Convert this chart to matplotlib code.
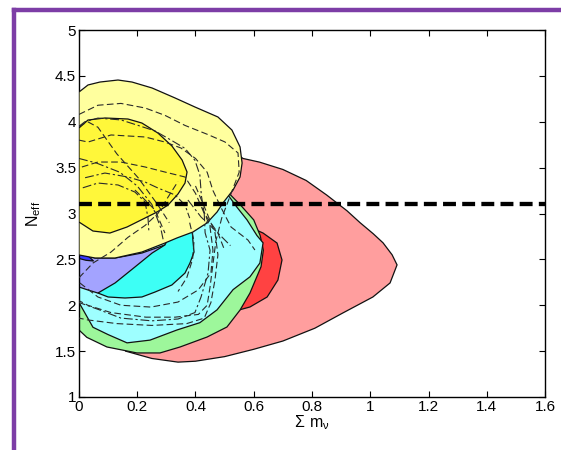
import matplotlib
matplotlib.use("Agg")
import matplotlib.pyplot as plt
from matplotlib.patches import Polygon
from matplotlib.lines import Line2D

plt.rcParams['font.family'] = ['Liberation Sans', 'DejaVu Sans']

# ---------------- data (sum m_nu , N_eff) ----------------
red95_x = [0.50, 0.563, 0.62, 0.70, 0.78, 0.851, 0.92, 0.965, 1.01, 1.044, 1.075, 1.092, 1.068, 1.009, 0.906, 0.81, 0.70, 0.60, 0.50, 0.40, 0.34, 0.25, 0.16, 0.10, 0.30]
red95_y = [3.75, 3.60, 3.56, 3.48, 3.36, 3.20, 3.03, 2.90, 2.78, 2.68, 2.55, 2.44, 2.243, 2.09, 1.916, 1.75, 1.61, 1.52, 1.44, 1.39, 1.38, 1.42, 1.50, 2.20, 3.20]

red68_x = [0.570, 0.632, 0.680, 0.697, 0.683, 0.646, 0.587, 0.536, 0.467, 0.347, 0.415]
red68_y = [2.875, 2.787, 2.678, 2.493, 2.275, 2.090, 1.981, 1.937, 1.948, 2.275, 2.711]

green95_x = [0.0, 0.027, 0.096, 0.199, 0.278, 0.347, 0.440, 0.508, 0.553, 0.587, 0.625, 0.633, 0.622, 0.600, 0.558, 0.515, 0.20, 0.0]
green95_y = [1.73, 1.65, 1.545, 1.48, 1.48, 1.545, 1.654, 1.763, 1.948, 2.133, 2.42, 2.60, 2.76, 2.93, 3.08, 3.22, 3.00, 2.30]

cyan95_x = [0.0, 0.25, 0.50, 0.512, 0.542, 0.577, 0.611, 0.632, 0.621, 0.587, 0.529, 0.474, 0.415, 0.336, 0.244, 0.165, 0.10, 0.048, 0.0]
cyan95_y = [2.71, 3.00, 3.25, 3.20, 3.07, 2.93, 2.76, 2.68, 2.46, 2.31, 2.17, 1.95, 1.81, 1.73, 1.62, 1.59, 1.68, 1.76, 2.03]

blue95_x = [0.0, 0.055, 0.124, 0.216, 0.295, 0.347, 0.244, 0.065, 0.031, 0.0]
blue95_y = [2.569, 2.515, 2.515, 2.569, 2.657, 2.548, 2.144, 2.133, 2.166, 2.199]

blue68_x = [0.0, 0.031, 0.050, 0.024, 0.0]
blue68_y = [2.602, 2.540, 2.482, 2.490, 2.510]

cyan68_x = [0.065, 0.124, 0.192, 0.251, 0.295, 0.330, 0.388, 0.391, 0.395, 0.381, 0.364, 0.319, 0.261, 0.216, 0.158, 0.100]
cyan68_y = [2.133, 2.243, 2.417, 2.569, 2.657, 2.875, 2.875, 2.711, 2.580, 2.460, 2.351, 2.221, 2.144, 2.090, 2.079, 2.090]

yellow95_x = [0.0, 0.031, 0.072, 0.134, 0.182, 0.251, 0.330, 0.398, 0.477, 0.525, 0.553, 0.560, 0.553, 0.529, 0.494, 0.474, 0.439, 0.391, 0.336, 0.295, 0.216, 0.124, 0.055, 0.0]
yellow95_y = [4.324, 4.401, 4.433, 4.455, 4.433, 4.368, 4.259, 4.161, 4.052, 3.910, 3.725, 3.550, 3.398, 3.256, 3.114, 3.016, 2.896, 2.798, 2.733, 2.678, 2.580, 2.515, 2.515, 2.548]

yellow68_x = [0.0, 0.031, 0.089, 0.168, 0.216, 0.271, 0.319, 0.354, 0.371, 0.364, 0.340, 0.306, 0.268, 0.220, 0.165, 0.106, 0.048, 0.0]
yellow68_y = [3.932, 4.019, 4.041, 4.030, 3.986, 3.877, 3.736, 3.583, 3.452, 3.332, 3.213, 3.093, 3.016, 2.940, 2.853, 2.787, 2.809, 2.907]

# unfilled comparison contours (dashed / dash-dot)
dash_curves = [
    ([0.0, 0.065, 0.144, 0.227, 0.295, 0.364, 0.443, 0.501, 0.546, 0.55, 0.52, 0.49, 0.47, 0.46, 0.45, 0.44, 0.41, 0.33, 0.23, 0.11, 0.03, 0.0],
     [4.08, 4.18, 4.20, 4.15, 4.07, 3.96, 3.86, 3.78, 3.66, 3.45, 3.20, 2.95, 2.70, 2.45, 2.20, 2.00, 1.90, 1.87, 1.87, 1.92, 2.00, 2.05]),
    ([0.40, 0.44, 0.467, 0.477, 0.467, 0.453, 0.43, 0.37, 0.25, 0.13, 0.03, 0.0],
     [3.30, 3.00, 2.79, 2.55, 2.28, 2.03, 1.86, 1.80, 1.78, 1.80, 1.84, 1.86]),
    ([0.003, 0.065, 0.144, 0.247, 0.340, 0.409, 0.453, 0.46, 0.45, 0.42],
     [2.243, 2.09, 2.00, 1.98, 2.035, 2.166, 2.351, 2.60, 2.85, 3.10]),
    ([0.0, 0.048, 0.11, 0.168, 0.227, 0.271, 0.306, 0.34],
     [2.30, 2.46, 2.58, 2.74, 2.87, 3.00, 3.18, 3.35]),
    ([0.0, 0.031, 0.110, 0.227, 0.295, 0.350, 0.40, 0.44, 0.46, 0.49, 0.522, 0.58, 0.604],
     [3.80, 3.779, 3.856, 3.834, 3.779, 3.714, 3.60, 3.45, 3.25, 3.05, 2.853, 2.711, 2.602]),
    ([0.01, 0.065, 0.144, 0.227, 0.295, 0.364, 0.40, 0.43, 0.477, 0.50],
     [3.507, 3.561, 3.561, 3.507, 3.452, 3.398, 3.22, 3.00, 2.787, 2.60]),
    ([0.0, 0.03, 0.065, 0.13, 0.203, 0.271, 0.31],
     [3.95, 4.00, 3.94, 3.65, 3.39, 3.093, 2.90]),
    ([0.38, 0.395, 0.39, 0.37, 0.34],
     [2.90, 2.70, 2.50, 2.30, 2.15]),
    ([0.192, 0.226, 0.261, 0.295],
     [3.256, 3.15, 3.038, 2.787]),
]
dashdot_curves = [
    ([0.0, 0.02, 0.065, 0.144, 0.203, 0.261, 0.316, 0.364, 0.398, 0.415, 0.42, 0.43, 0.433, 0.45, 0.443, 0.419, 0.398, 0.34, 0.25, 0.144, 0.07, 0.0],
     [3.95, 4.00, 4.04, 4.02, 3.96, 3.90, 3.80, 3.71, 3.58, 3.42, 3.20, 3.00, 2.79, 2.60, 2.35, 2.09, 1.92, 1.85, 1.83, 1.86, 1.95, 2.03]),
    ([0.021, 0.089, 0.168, 0.227, 0.271, 0.330, 0.364, 0.38],
     [3.39, 3.441, 3.398, 3.343, 3.278, 3.202, 3.093, 2.95]),
    ([0.013, 0.065, 0.134, 0.192, 0.227, 0.237, 0.24],
     [3.28, 3.332, 3.311, 3.234, 3.125, 2.951, 2.80]),
    ([0.0, 0.06, 0.14, 0.20, 0.25, 0.28, 0.29],
     [3.60, 3.55, 3.45, 3.30, 3.10, 2.85, 2.70]),
    ([0.374, 0.419, 0.477, 0.52],
     [3.147, 2.962, 2.787, 2.65]),
]

n_eff_std = 3.1

x_ticks = [0, 0.2, 0.4, 0.6, 0.8, 1.0, 1.2, 1.4, 1.6]
x_tick_labels = ['0', '0.2', '0.4', '0.6', '0.8', '1', '1.2', '1.4', '1.6']
y_ticks = [1, 1.5, 2, 2.5, 3, 3.5, 4, 4.5, 5]
y_tick_labels = ['1', '1.5', '2', '2.5', '3', '3.5', '4', '4.5', '5']

# ---------------- figure ----------------
fig = plt.figure(figsize=(5.61, 4.5), dpi=100)
fig.patch.set_facecolor('white')

purple = '#7D3DA6'
fig.add_artist(Line2D([13.5/561, 13.5/561], [0, 1 - 9.5/450], color=purple, lw=3.2,
                      transform=fig.transFigure, solid_capstyle='projecting'))
fig.add_artist(Line2D([13.5/561, 1.0], [1 - 9.5/450, 1 - 9.5/450], color=purple, lw=3.2,
                      transform=fig.transFigure, solid_capstyle='projecting'))

ax = fig.add_axes([0.1408, 0.1178, 0.8307, 0.8155])
ax.set_xlim(0, 1.6)
ax.set_ylim(1, 5)

fills = [
    (red95_x, red95_y, '#FF9E9E'),
    (red68_x, red68_y, '#FF4242'),
    (green95_x, green95_y, '#9DF79B'),
    (cyan95_x, cyan95_y, '#9EFFFF'),
    (blue95_x, blue95_y, '#A3A3FF'),
    (blue68_x, blue68_y, '#3838FF'),
    (cyan68_x, cyan68_y, '#3DFFF5'),
    (yellow95_x, yellow95_y, '#FFFF9E'),
    (yellow68_x, yellow68_y, '#FFF73A'),
]
for i, (xs, ys, c) in enumerate(fills):
    ax.add_patch(Polygon(list(zip(xs, ys)), closed=True, facecolor=c,
                         edgecolor='#111111', lw=0.9, zorder=2 + i * 0.1))

for xs, ys in dash_curves:
    ax.plot(xs, ys, color='#2a2a2a', lw=0.8, dashes=(6, 3), zorder=4)
for xs, ys in dashdot_curves:
    ax.plot(xs, ys, color='#2a2a2a', lw=0.8, dashes=(8, 2.5, 2, 2.5), zorder=4)

ax.axhline(n_eff_std, color='black', lw=3.1, dashes=(3.0, 1.45), zorder=5)

ax.set_xticks(x_ticks)
ax.set_xticklabels(x_tick_labels)
ax.set_yticks(y_ticks)
ax.set_yticklabels(y_tick_labels)
ax.tick_params(direction='in', length=4.5, width=0.8, top=True, right=True,
               labelsize=11, pad=2)
for s in ax.spines.values():
    s.set_linewidth(1.0)

ax.set_xlabel(r'$\mathregular{\Sigma\ m_{\nu}}$', fontsize=11.5, labelpad=0)
ax.set_ylabel(r'$\mathregular{N_{eff}}$', fontsize=11.5, labelpad=9)

fig.savefig('out.png', dpi=100, facecolor='white')
